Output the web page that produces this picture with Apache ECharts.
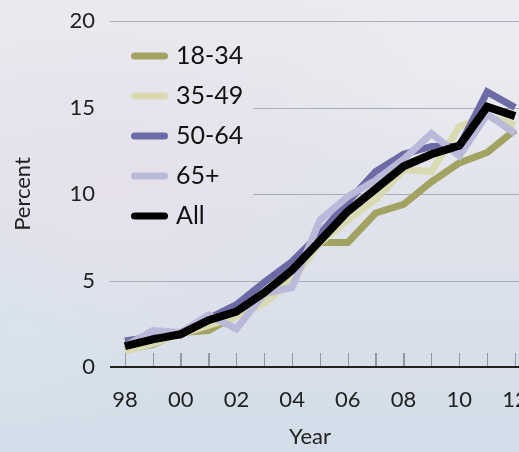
<!DOCTYPE html>
<html>
<head>
<meta charset="utf-8">
<script src="https://cdn.jsdelivr.net/npm/echarts@6/dist/echarts.min.js"></script>
<style>
  html, body { margin: 0; padding: 0; }
  body {
    width: 519px; height: 452px; overflow: hidden; position: relative;
    background:
      radial-gradient(ellipse 230px 170px at 110px 190px, rgba(230,225,236,0.95), rgba(230,225,236,0) 100%),
      radial-gradient(ellipse 200px 120px at 470px 60px, rgba(236,236,242,0.8), rgba(236,236,242,0) 100%),
      radial-gradient(ellipse 160px 120px at 20px 330px, rgba(214,228,238,0.9), rgba(214,228,238,0) 100%),
      linear-gradient(180deg, #ebeaef 0%, #e3e4ec 35%, #d9e0ea 70%, #d2dde9 100%);
  }
  #chart { position: absolute; left: 0; top: 0; width: 519px; height: 452px; }
  #baseline { position: absolute; left: 110px; top: 366px; width: 409px; height: 2px; background: #222; z-index: 10; }
  .tick { position: absolute; top: 353px; width: 1px; height: 14px; background: #9598a4; z-index: 9; }
</style>
</head>
<body>
<div id="chart"></div>
<div id="baseline"></div>
<script>
// Share of people by age group, 1998–2012 (percent)
const years = ['98', '99', '00', '01', '02', '03', '04', '05', '06', '07', '08', '09', '10', '11', '12'];
const yTicks = [0, 5, 10, 15, 20];

const age18to34 = [1.0, 1.3, 2.0, 2.1, 3.0, 4.0, 5.2, 7.2, 7.2, 8.9, 9.4, 10.7, 11.8, 12.4, 13.7];
const age35to49 = [0.9, 1.35, 1.9, 2.4, 2.9, 3.7, 5.0, 7.2, 8.5, 9.7, 11.4, 11.3, 13.9, 14.5, 14.0];
const age50to64 = [1.5, 1.75, 1.85, 2.8, 3.6, 4.9, 6.1, 7.7, 9.55, 11.3, 12.3, 12.75, 12.75, 15.9, 15.0];
const age65plus = [1.2, 2.1, 2.0, 3.0, 2.2, 4.25, 4.6, 8.5, 9.85, 10.8, 12.0, 13.5, 12.2, 14.6, 13.5];
const allAges   = [1.2, 1.6, 1.9, 2.7, 3.2, 4.3, 5.6, 7.3, 9.0, 10.3, 11.6, 12.3, 12.8, 15.05, 14.5];

const seriesDefs = [
  { name: '18-34', data: age18to34, color: '#a2a262', width: 7 },
  { name: '35-49', data: age35to49, color: '#d9dab2', width: 7 },
  { name: '50-64', data: age50to64, color: '#6d6ba6', width: 7 },
  { name: '65+',   data: age65plus, color: '#bab9da', width: 7 },
  { name: 'All',   data: allAges,   color: '#000000', width: 8 }
];

const font = 'Lato, "Open Sans", sans-serif';
const pill = 'path://M3.5,0 H33.5 A3.5,3.5 0 0 1 33.5,7 H3.5 A3.5,3.5 0 0 1 3.5,0 Z';

const GRID_LEFT = 111;
const GRID_WIDTH = 418;
const LEGEND_RIGHT_EDGE = 253;

const chart = echarts.init(document.getElementById('chart'), null, { renderer: 'canvas' });
chart.setOption({
  backgroundColor: 'transparent',
  animation: false,
  textStyle: { fontFamily: font },
  grid: { left: GRID_LEFT, width: GRID_WIDTH, top: 21, bottom: 85, containLabel: false, outerBoundsMode: 'none' },
  legend: {
    left: 110, top: 33,
    orient: 'vertical',
    icon: pill,
    itemWidth: 37, itemHeight: 7,
    itemGap: 14,
    padding: [10, 14, 10, 21],
    textStyle: { fontFamily: font, fontSize: 25, color: '#111', lineHeight: 26, padding: [0, 0, 0, 3] },
    data: seriesDefs.map(s => s.name)
  },
  xAxis: {
    type: 'category',
    data: years,
    boundaryGap: true,
    name: 'Year',
    nameLocation: 'middle',
    nameGap: 59,
    nameTextStyle: { fontFamily: font, fontSize: 22, color: '#222', padding: [0, 20, 0, 0] },
    axisLine: { show: true, onZero: false, lineStyle: { color: '#222', width: 2 } },
    axisTick: { show: true, inside: true, length: 14, interval: 0, alignWithLabel: true, lineStyle: { color: '#9598a4', width: 1 } },
    axisLabel: { interval: 1, margin: 22, fontFamily: font, fontSize: 22, color: '#222', hideOverlap: false },
    splitLine: { show: false }
  },
  yAxis: {
    type: 'value',
    min: yTicks[0], max: yTicks[yTicks.length - 1], interval: 5,
    name: 'Percent',
    nameLocation: 'middle',
    nameGap: 77,
    nameRotate: 90,
    nameTextStyle: { fontFamily: font, fontSize: 22, color: '#222' },
    axisLine: { show: false },
    axisTick: { show: false },
    axisLabel: { margin: 16, fontFamily: font, fontSize: 22, color: '#222' },
    splitLine: { show: false }
  },
  series: seriesDefs.map(s => ({
    name: s.name,
    type: 'line',
    data: s.data,
    symbol: 'none',
    showSymbol: false,
    color: s.color,
    z: 3,
    lineStyle: { color: s.color, width: s.width, join: 'miter' },
    emphasis: { disabled: true }
  }))
});

// Horizontal gridlines; the ones passing behind the legend start right of it.
const guides = yTicks.filter(v => v > 0).map(v => {
  const y = Math.round(chart.convertToPixel({ yAxisIndex: 0 }, v)) + 0.5;
  const x1 = (v === 10 || v === 15) ? LEGEND_RIGHT_EDGE : GRID_LEFT - 1;
  return {
    type: 'line', z: 0, silent: true,
    shape: { x1: x1, y1: y, x2: 519, y2: y },
    style: { stroke: '#a9abb6', lineWidth: 1 }
  };
});
chart.setOption({ graphic: guides });

// Small upward tick at every year, centred on each category band.
const band = GRID_WIDTH / years.length;
years.forEach((yr, i) => {
  const t = document.createElement('div');
  t.className = 'tick';
  t.style.left = Math.round(GRID_LEFT + band * (i + 0.5)) + 'px';
  document.body.appendChild(t);
});
</script>
</body>
</html>
